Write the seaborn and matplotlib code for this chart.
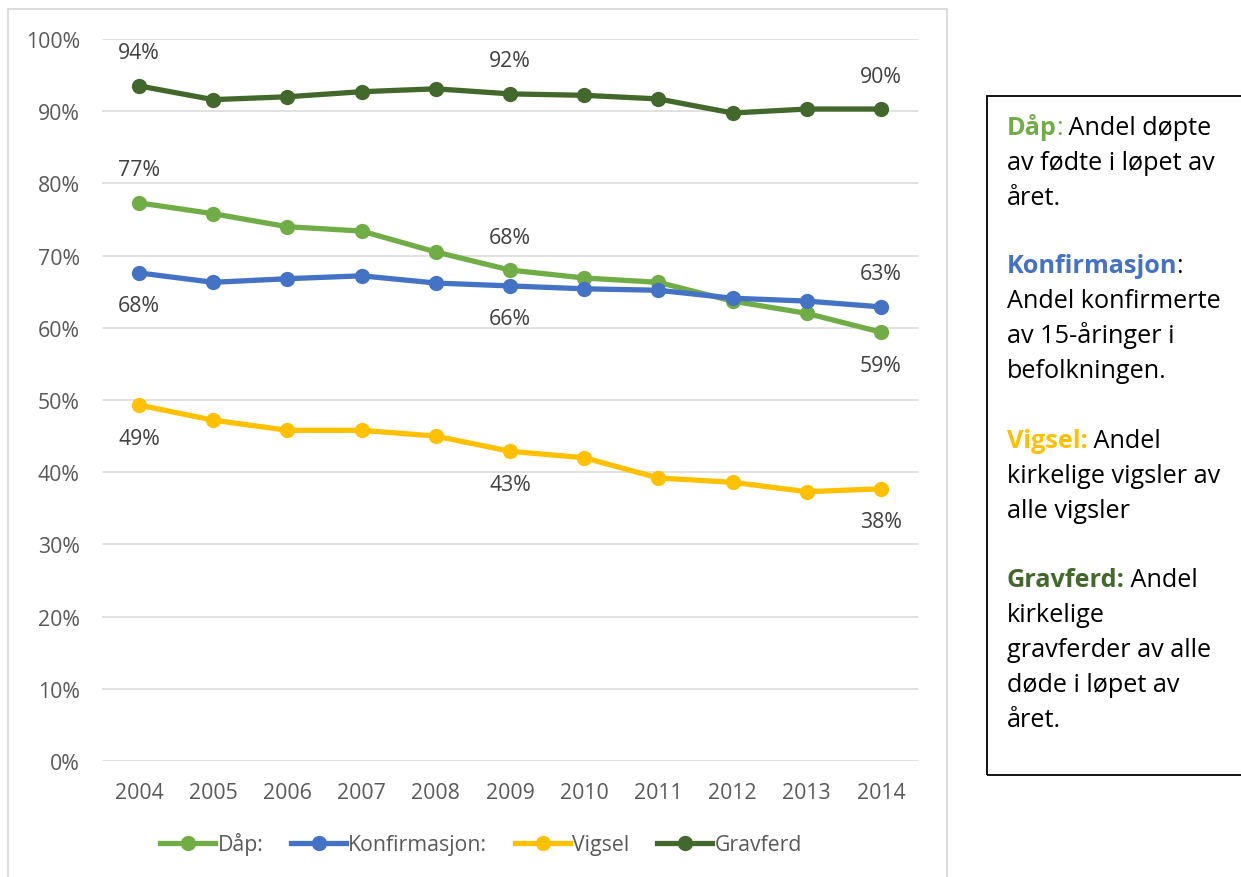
import matplotlib
matplotlib.use("Agg")
import matplotlib.pyplot as plt
import seaborn as sns
import pandas as pd
from matplotlib.lines import Line2D
from matplotlib.patches import Rectangle
from matplotlib.ticker import FuncFormatter

# ---- data ----
years = [2004, 2005, 2006, 2007, 2008, 2009, 2010, 2011, 2012, 2013, 2014]
series_names = ["Dåp:", "Konfirmasjon:", "Vigsel", "Gravferd"]
dap = [77.3, 75.8, 74.0, 73.4, 70.5, 68.0, 66.9, 66.3, 63.7, 62.0, 59.4]
konfirmasjon = [67.6, 66.3, 66.8, 67.2, 66.2, 65.8, 65.4, 65.2, 64.1, 63.7, 62.9]
vigsel = [49.3, 47.2, 45.8, 45.8, 45.0, 42.9, 42.0, 39.2, 38.6, 37.3, 37.7]
gravferd = [93.5, 91.6, 92.0, 92.7, 93.1, 92.4, 92.2, 91.7, 89.75, 90.3, 90.3]
y_ticks = [0, 10, 20, 30, 40, 50, 60, 70, 80, 90, 100]
label_years = [2004, 2009, 2014]
colors = ["#70AD47", "#4472C4", "#FFC000", "#43682B"]

values = [dap, konfirmasjon, vigsel, gravferd]
df = pd.concat(
    [pd.DataFrame({"year": years, "value": v, "series": n}) for n, v in zip(series_names, values)],
    ignore_index=True,
)
palette = dict(zip(series_names, colors))

W, H = 1241, 878
FONT = "Open Sans"
plt.rcParams["font.family"] = [FONT, "DejaVu Sans"]
FS = 15.3
LW = 3.8
MS = 11

fig = plt.figure(figsize=(W / 100, H / 100), dpi=100)
ax = fig.add_axes([102 / W, 1 - 762 / H, (918 - 102) / W, (762 - 40) / H])

sns.lineplot(data=df, x="year", y="value", hue="series", palette=palette, ax=ax,
             marker="o", markersize=MS, markeredgewidth=0, linewidth=LW,
             legend=False, zorder=3)

ax.set_xlim(2003.5, 2014.5)
ax.set_ylim(0, 100)
ax.set_yticks(y_ticks)
ax.yaxis.set_major_formatter(FuncFormatter(lambda v, p: f"{v:.0f}%"))
ax.set_xticks(years)
ax.set_xticklabels([str(y) for y in years])
ax.grid(axis="y", color="#D9D9D9", linewidth=1.1, zorder=0)
ax.grid(axis="x", visible=False)
for s in ax.spines.values():
    s.set_visible(False)
ax.tick_params(axis="both", length=0, labelsize=FS, labelcolor="#595959")
ax.tick_params(axis="y", pad=16)
ax.tick_params(axis="x", pad=15)
ax.set_xlabel("")
ax.set_ylabel("")
ax.set_facecolor("white")

# data labels: (series index, year) -> above (+1) or below (-1)
placement = {
    (0, 2004): 1, (0, 2009): 1, (0, 2014): -1,
    (1, 2004): -1, (1, 2009): -1, (1, 2014): 1,
    (2, 2004): -1, (2, 2009): -1, (2, 2014): -1,
    (3, 2004): 1, (3, 2009): 1, (3, 2014): 1,
}
for si, vals in enumerate(values):
    for yr in label_years:
        v = vals[years.index(yr)]
        d = placement[(si, yr)]
        ax.annotate(f"{v:.0f}%", (yr, v), xytext=(0, 33 * d), textcoords="offset pixels",
                    ha="center", va="center", fontsize=FS, color="#404040")

# legend
handles = [Line2D([0], [0], color=c, linewidth=LW, marker="o", markersize=MS,
                  markeredgewidth=0) for c in colors]
fig.legend(handles, series_names, loc="center", bbox_to_anchor=(481 / W, 1 - 845 / H),
           ncol=4, frameon=False, fontsize=FS, handlelength=2.6, handletextpad=0.1,
           columnspacing=1.3, labelcolor="#595959", borderaxespad=0)

# chart frame
fig.patches.append(Rectangle((8 / W, -0.01), (947 - 8) / W, 1 - 10 / H + 0.01,
                             transform=fig.transFigure, fill=False,
                             edgecolor="#D9D9D9", linewidth=1.3))
# text box frame
fig.patches.append(Rectangle((987 / W, 1 - 776 / H), (W + 10 - 987) / W, (776 - 97) / H,
                             transform=fig.transFigure, fill=False,
                             edgecolor="black", linewidth=1.3))

# text box contents
TB = 18.2
lines = [
    (135, [("Dåp", colors[0], "bold"), (":", colors[0], "normal"), (" Andel døpte", "black", "normal")]),
    (170, [("av fødte i løpet av", "black", "normal")]),
    (205, [("året.", "black", "normal")]),
    (273, [("Konfirmasjon", colors[1], "bold"), (":", "black", "normal")]),
    (308, [("Andel konfirmerte", "black", "normal")]),
    (343, [("av 15-åringer i", "black", "normal")]),
    (378, [("befolkningen.", "black", "normal")]),
    (448, [("Vigsel:", colors[2], "bold"), (" Andel", "black", "normal")]),
    (483, [("kirkelige vigsler av", "black", "normal")]),
    (518, [("alle vigsler", "black", "normal")]),
    (587, [("Gravferd:", colors[3], "bold"), (" Andel", "black", "normal")]),
    (622, [("kirkelige", "black", "normal")]),
    (657, [("gravferder av alle", "black", "normal")]),
    (692, [("døde i løpet av", "black", "normal")]),
    (727, [("året.", "black", "normal")]),
]
renderer = fig.canvas.get_renderer()
for ypix, segs in lines:
    x = 1007
    for txt, col, wt in segs:
        t = fig.text(x / W, 1 - ypix / H, txt, color=col, fontweight=wt, fontsize=TB,
                     ha="left", va="baseline")
        bb = t.get_window_extent(renderer=renderer)
        x = bb.x1 - 1

fig.savefig("out.png", dpi=100, facecolor="white")
